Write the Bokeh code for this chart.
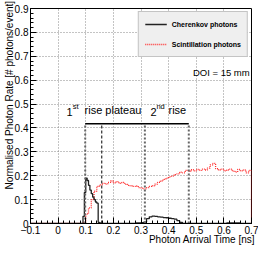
import numpy as np
from bokeh.plotting import figure
from bokeh.models import FixedTicker, Label, Legend, LegendItem
from bokeh.embed import file_html
from bokeh.resources import INLINE

# ---- data ----
cher_t = [-0.1, 0.09, 0.095, 0.10, 0.105, 0.11, 0.115, 0.12, 0.125, 0.13, 0.135, 0.14, 0.145, 0.15, 0.155,
          0.28, 0.29, 0.30, 0.31, 0.32, 0.33, 0.34, 0.35, 0.36, 0.37, 0.38, 0.39, 0.40, 0.41, 0.42, 0.43,
          0.44, 0.45, 0.61, 0.62, 0.63, 0.65, 0.66, 0.7]
cher_v = [0, 0.03, 0.13, 0.19, 0.18, 0.16, 0.14, 0.125, 0.11, 0.1, 0.09, 0.085, 0.005, 0.003, 0,
          0.002, 0.003, 0.004, 0.006, 0.02, 0.028, 0.031, 0.03, 0.028, 0.027, 0.025, 0.024, 0.022, 0.02,
          0.018, 0.012, 0.005, 0, 0.002, 0.003, 0.002, 0.003, 0, 0]

scint_edges = np.round(np.arange(0.09, 0.695, 0.01), 3).tolist()
scint_vals = [0.005, 0.04, 0.065, 0.10, 0.135, 0.155, 0.162, 0.168, 0.165, 0.172,
              0.178, 0.17, 0.175, 0.168, 0.172, 0.165, 0.16, 0.158, 0.155, 0.157,
              0.15, 0.148, 0.145, 0.15, 0.155, 0.158, 0.165, 0.172, 0.178, 0.185,
              0.19, 0.195, 0.198, 0.205, 0.208, 0.215, 0.212, 0.222, 0.218, 0.225,
              0.22, 0.226, 0.222, 0.228, 0.224, 0.232, 0.245, 0.252, 0.23, 0.224,
              0.228, 0.22, 0.224, 0.228, 0.219, 0.215, 0.226, 0.22, 0.224, 0.212,
              0.222]
scint_t = [-0.1] + scint_edges + [0.7]
scint_v = [0] + scint_vals + [0]

x_ticks = [-0.1, 0.0, 0.1, 0.2, 0.3, 0.4, 0.5, 0.6, 0.7]
y_ticks = [0.0, 0.1, 0.2, 0.3, 0.4, 0.5, 0.6, 0.7, 0.8, 0.9]

# phase boundaries (ns) and bracket height
phase_edges = [0.098, 0.158, 0.314, 0.473]
bracket_y = 0.418

FONT = "Liberation Sans"
NB = "\u00a0"

p = figure(width=258, height=247, x_range=(-0.1, 0.7), y_range=(0, 0.9),
           output_backend="svg", toolbar_location=None,
           min_border_left=20, min_border_right=7, min_border_top=8, min_border_bottom=16)
p.outline_line_color = "black"
p.outline_line_width = 1
p.background_fill_color = "white"
p.border_fill_color = "white"

x_minor = np.round(np.arange(-0.1, 0.7001, 0.02), 3).tolist()
y_minor = np.round(np.arange(0.0, 0.9001, 0.02), 3).tolist()
p.xaxis.ticker = FixedTicker(ticks=x_ticks, minor_ticks=x_minor)
p.yaxis.ticker = FixedTicker(ticks=y_ticks, minor_ticks=y_minor)
p.xgrid.ticker = FixedTicker(ticks=x_ticks)
p.ygrid.ticker = FixedTicker(ticks=y_ticks)

for ax in (p.xaxis[0], p.yaxis[0]):
    ax.major_tick_in = 6
    ax.major_tick_out = 0
    ax.minor_tick_in = 3
    ax.minor_tick_out = 0
    ax.axis_line_color = "black"
    ax.major_tick_line_color = "black"
    ax.minor_tick_line_color = "black"
    ax.major_label_text_font = FONT
    ax.major_label_text_font_size = "10px"
    ax.major_label_text_color = "black"
    ax.major_label_overrides = {0: "0"}
    ax.axis_label_text_font = FONT
    ax.axis_label_text_font_size = "10px"
    ax.axis_label_text_font_style = "normal"
    ax.axis_label_text_color = "black"
p.xaxis.major_label_standoff = 2
p.yaxis.major_label_standoff = 2
# titles are end-aligned like the original: padding shifts them along the axis
p.xaxis.axis_label = NB * 44 + "Photon Arrival Time [ns]"
p.yaxis.axis_label = NB * 15 + "Normalised Photon Rate [# photons/event]"
p.xaxis.axis_label_standoff = -3
p.yaxis.axis_label_standoff = -3

p.grid.grid_line_color = "#888888"
p.grid.grid_line_dash = "1 2"
p.grid.grid_line_width = 1

r_s = p.step(scint_t, scint_v, mode="after", line_color="#ff3030", line_width=1.3, line_dash="1 1")
r_c = p.step(cher_t, cher_v, mode="after", line_color="#222222", line_width=1.3)

# phase bracket
p.line([phase_edges[0], phase_edges[-1]], [bracket_y, bracket_y], line_color="black", line_width=1.5)
for i, xe in enumerate(phase_edges):
    if i == 1:
        p.line([xe, xe], [0, bracket_y], line_color="black", line_width=1, line_dash="3 2")
    else:
        p.line([xe, xe], [0, bracket_y], line_color="#666666", line_width=2, line_dash="2 2")

def lab(x, y, t, size, **kw):
    p.add_layout(Label(x=x, y=y, text=t, text_font=FONT, text_font_size=size,
                       text_color="black", **kw))

lab(0.0306, 0.452, "1", "11px")
lab(0.053, 0.472, "st", "7.5px")
lab(0.0958, 0.452, "rise", "11px")
lab(0.171, 0.452, "plateau", "11px")
lab(0.3344, 0.452, "2", "11px")
lab(0.3557, 0.472, "nd", "7.5px")
lab(0.3996, 0.452, "rise", "11px")
lab(0.488, 0.61, "DOI = 15 mm", "9.5px")

legend = Legend(items=[LegendItem(label="Cherenkov photons", renderers=[r_c]),
                       LegendItem(label="Scintillation photons", renderers=[r_s])],
                location="top_right")
legend.label_text_font = FONT
legend.label_text_font_style = "bold"
legend.label_text_font_size = "7px"
legend.label_text_color = "black"
legend.label_height = 12
legend.glyph_height = 12
legend.glyph_width = 22
legend.label_standoff = 5
legend.spacing = 8
legend.padding = 6
legend.margin = 3
legend.background_fill_color = "#efefef"
legend.background_fill_alpha = 1
legend.border_line_color = "#999999"
legend.border_line_width = 1
p.add_layout(legend)

open("out.html", "w").write(file_html(p, INLINE))
